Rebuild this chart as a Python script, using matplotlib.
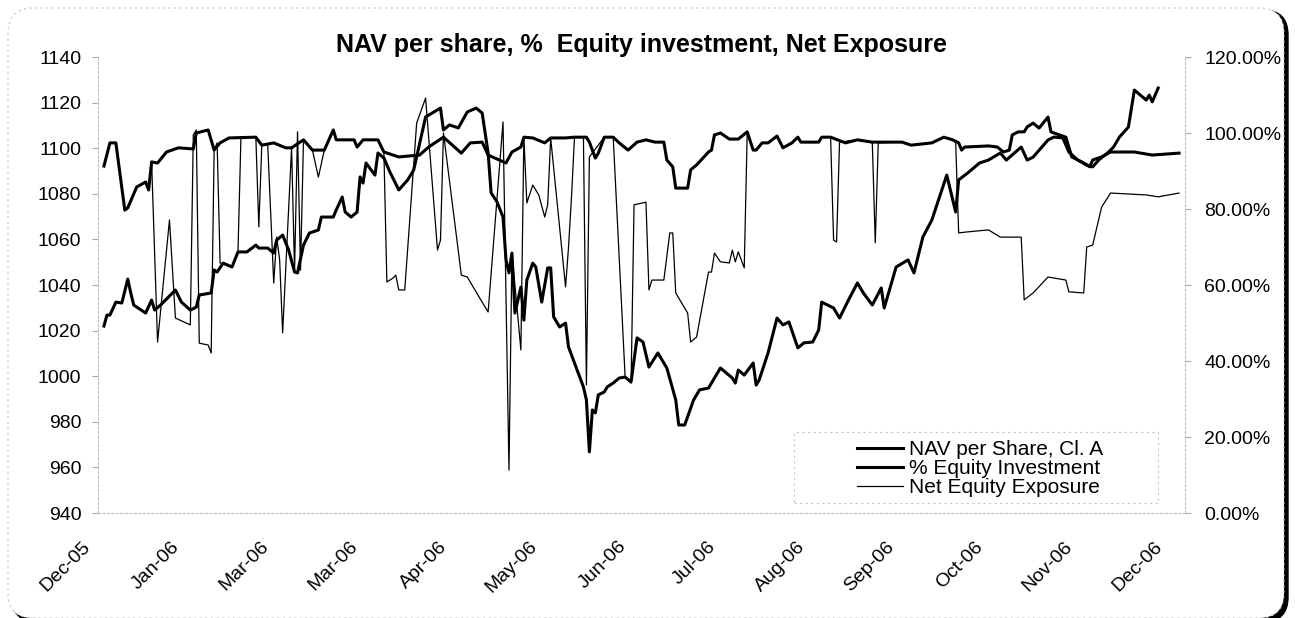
import numpy as np
import matplotlib
matplotlib.use('Agg')
import matplotlib.pyplot as plt
from matplotlib.patches import FancyBboxPatch, Rectangle
from matplotlib.transforms import ScaledTranslation

plt.rcParams['font.family'] = ['Liberation Sans', 'DejaVu Sans']

# x values are days counted from 31-Dec-2005
BASE = np.datetime64('2005-12-31')

nav_day = [2, 3, 4, 6, 8, 10, 11, 12, 16, 18, 19, 21, 26, 28, 31, 33, 34, 38, 39, 40,
           42, 45, 47, 50, 53, 54, 57, 59, 60, 62, 64, 66, 67, 69, 71, 74, 75, 79, 80, 82,
           83, 85, 87, 88, 89, 90, 93, 94, 96, 98, 101, 104, 106, 110, 115, 116, 118, 121, 124, 127,
           129, 131, 132, 134, 136, 137, 138, 139, 140, 142, 143, 144, 146, 147, 149, 151, 152, 153, 155, 157,
           158, 160, 163, 164, 165, 166, 167, 168, 170, 171, 173, 175, 177, 179, 181, 183, 185, 188, 191, 194,
           195, 197, 200, 202, 205, 209, 213, 214, 215, 217, 220, 221, 222, 225, 228, 230, 232, 235, 237, 240,
           242, 243, 247, 249, 252, 255, 257, 260, 263, 264, 268, 272, 274, 277, 280, 285, 288, 289, 292, 296,
           299, 303, 305, 310, 312, 314, 319, 321, 324, 326, 329, 332, 334, 336, 339, 341, 343, 346, 348, 352,
           353, 354, 356]
nav_val = [1022.0, 1026.8, 1026.8, 1032.5, 1032.1, 1042.6, 1036.5, 1031.2, 1027.7, 1033.4,
           1029.0, 1031.2, 1037.8, 1032.5, 1029.0, 1030.3, 1035.6, 1036.5, 1046.6, 1045.7,
           1049.6, 1047.9, 1054.5, 1054.5, 1057.5, 1056.2, 1056.2, 1054.0, 1059.7, 1061.9,
           1055.4, 1045.7, 1045.3, 1057.5, 1062.8, 1064.1, 1069.8, 1069.8, 1072.9, 1078.6,
           1072.0, 1069.8, 1072.0, 1087.4, 1084.7, 1093.5, 1088.2, 1097.9, 1095.7, 1089.6,
           1081.7, 1086.1, 1090.4, 1113.7, 1117.6, 1108.0, 1110.2, 1108.9, 1115.9, 1117.6,
           1115.4, 1097.9, 1080.4, 1076.4, 1069.8, 1051.0, 1045.3, 1054.0, 1027.7, 1039.1,
           1024.6, 1042.2, 1049.6, 1047.9, 1032.5, 1047.5, 1047.5, 1026.0, 1021.6, 1023.3,
           1012.8, 1005.8, 995.3, 989.6, 966.8, 985.2, 983.9, 991.8, 993.1, 995.3,
           997.0, 999.2, 999.6, 997.5, 1016.8, 1015.0, 1004.0, 1010.2, 1003.6, 989.6,
           978.6, 978.6, 989.6, 994.0, 994.8, 1003.6, 999.2, 997.0, 1002.7, 1000.5,
           1005.8, 996.1, 998.3, 1010.2, 1025.5, 1022.5, 1023.8, 1012.4, 1014.6, 1015.0,
           1020.3, 1032.5, 1029.9, 1025.5, 1033.4, 1040.9, 1036.5, 1031.2, 1038.7, 1029.9,
           1047.9, 1051.0, 1045.3, 1061.1, 1068.5, 1088.2, 1072.0, 1086.1, 1089.1, 1093.5,
           1094.8, 1097.9, 1094.8, 1100.5, 1094.8, 1096.1, 1103.6, 1104.9, 1104.5, 1098.3,
           1094.8, 1092.6, 1091.8, 1094.8, 1097.9, 1100.5, 1104.9, 1109.3, 1125.5, 1121.1,
           1123.3, 1120.3, 1126.4]

eq_day = [2, 4, 6, 9, 10, 13, 16, 17, 18, 20, 23, 27, 32, 33, 37, 39, 41, 44, 53, 55,
          59, 63, 65, 69, 72, 76, 79, 80, 86, 87, 89, 94, 96, 101, 108, 111, 116, 122, 125, 129,
          131, 137, 139, 142, 143, 146, 150, 152, 157, 160, 164, 165, 167, 168, 170, 173, 175, 178, 181, 184,
          187, 190, 191, 193, 194, 198, 199, 201, 205, 206, 207, 209, 212, 215, 218, 220, 221, 223, 225, 228,
          230, 233, 235, 236, 242, 243, 246, 251, 255, 260, 270, 273, 280, 284, 287, 289, 290, 291, 299, 302,
          304, 306, 307, 309, 311, 312, 314, 316, 319, 320, 321, 325, 327, 331, 333, 334, 337, 340, 348, 354,
          363]
eq_pct = [91.3, 97.4, 97.4, 79.7, 80.3, 85.8, 87.1, 85.0, 92.4, 92.1, 95.0, 96.1, 95.8, 100.0, 100.8,
          95.5, 97.4, 98.7, 98.9, 96.8, 97.4, 96.1, 96.1, 98.2, 95.5, 95.5, 100.8, 98.2, 98.2, 96.3,
          98.2, 98.2, 95.0, 93.7, 94.2, 96.3, 98.9, 94.7, 97.4, 97.6, 94.2, 92.1, 95.0, 96.3, 98.9,
          98.7, 97.4, 98.7, 98.7, 98.9, 98.9, 97.6, 93.4, 94.7, 98.9, 98.9, 97.4, 95.5, 97.6, 98.2,
          97.6, 97.6, 92.9, 91.1, 85.5, 85.5, 90.3, 91.6, 95.0, 95.5, 99.5, 100.0, 98.4, 98.4, 100.3,
          95.5, 95.5, 97.4, 97.4, 99.2, 96.1, 97.4, 98.9, 97.6, 97.6, 98.9, 98.9, 97.4, 98.2, 97.6,
          97.6, 96.8, 97.4, 98.9, 98.2, 97.4, 95.5, 96.3, 96.6, 96.3, 95.0, 95.5, 99.5, 100.3, 100.3,
          101.6, 102.6, 101.3, 104.2, 100.3, 100.0, 98.9, 93.7, 92.1, 91.1, 92.9, 93.7, 95.0, 95.0,
          94.2, 94.7]

net_day = [2, 4, 6, 9, 10, 13, 16, 17, 18, 20, 24, 26, 31, 32, 33, 34, 37, 38, 39, 40,
           41, 45, 47, 48, 53, 54, 55, 57, 59, 60, 61, 62, 65, 66, 67, 68, 69, 72, 74, 76,
           79, 80, 86, 87, 89, 94, 96, 97, 99, 100, 101, 103, 107, 110, 114, 115, 116, 122, 124, 128,
           131, 136, 138, 139, 142, 143, 144, 146, 148, 150, 151, 152, 157, 158, 159, 160, 163, 164, 165, 170,
           173, 177, 179, 180, 184, 185, 186, 190, 192, 193, 194, 198, 199, 201, 205, 206, 207, 209, 212, 213,
           214, 215, 216, 217, 218, 220, 221, 223, 225, 228, 230, 233, 235, 236, 242, 243, 246, 247, 248, 249,
           255, 260, 261, 262, 270, 273, 280, 284, 287, 288, 289, 291, 299, 303, 310, 311, 314, 319, 325, 326,
           331, 332, 334, 337, 340, 352, 356, 363]
net_pct = [91.3, 97.4, 97.4, 79.7, 80.3, 85.8, 87.1, 85.0, 92.4, 45.0, 77.1, 51.3, 49.5, 99.5, 100.8,
           44.7, 44.2, 42.1, 95.5, 97.4, 65.8, 64.7, 68.7, 98.9, 98.9, 75.3, 96.8, 96.8, 60.5, 72.6,
           66.6, 47.4, 96.1, 63.9, 100.3, 63.9, 98.2, 95.5, 88.4, 95.5, 100.8, 98.2, 98.2, 96.3, 98.2,
           98.2, 95.0, 60.8, 61.8, 62.6, 58.7, 58.7, 102.6, 109.2, 69.2, 71.8, 100.0, 62.6, 62.1, 56.8,
           52.9, 102.9, 11.3, 68.4, 42.9, 98.9, 81.6, 86.3, 83.7, 77.9, 81.1, 98.7, 59.5, 70.0, 83.2,
           98.9, 98.9, 33.7, 93.7, 98.9, 98.9, 35.8, 34.2, 81.1, 81.8, 58.7, 61.3, 61.3, 73.7, 73.7,
           57.9, 52.6, 45.0, 46.3, 63.4, 63.4, 68.4, 66.1, 65.8, 69.2, 66.1, 68.7, 66.6, 64.5, 100.3,
           95.5, 95.5, 97.4, 97.4, 99.2, 96.1, 97.4, 98.9, 97.6, 97.6, 98.9, 98.9, 71.8, 71.3, 97.6,
           98.2, 97.4, 71.1, 97.4, 97.6, 96.8, 97.4, 98.9, 98.2, 97.4, 73.7, 73.9, 74.5, 72.6, 72.6,
           56.1, 57.9, 62.1, 61.3, 58.2, 57.9, 70.0, 70.5, 80.5, 84.2, 83.7, 83.2, 84.2]

tick_day = list(range(0, 361, 30))
nav_ticks = list(range(940, 1141, 20))
pct_ticks = list(range(0, 121, 20))


def to_dates(days):
    return BASE + np.array(days, dtype='timedelta64[D]')


fig = plt.figure(figsize=(12.95, 6.18), dpi=100)

# chart area frame with the dark shadow on the right
px = 1 / 100
shadow = FancyBboxPatch((12 * px, -4 * px), 1276 * px, 612 * px,
                        boxstyle='round,pad=0,rounding_size=0.25',
                        transform=fig.dpi_scale_trans, facecolor='black',
                        edgecolor='black', lw=1, zorder=-20)
frame = FancyBboxPatch((8 * px, 0 * px), 1276 * px, 610 * px,
                       boxstyle='round,pad=0,rounding_size=0.25',
                       transform=fig.dpi_scale_trans, facecolor='white',
                       edgecolor='#c4c4c4', lw=0.8, linestyle=(0, (2, 3)), zorder=-10)
fig.patches.extend([shadow, frame])

ax = fig.add_axes([98 / 1295, 1 - 513 / 618, 1087 / 1295, 456 / 618])
ax.set_facecolor('none')
ax2 = ax.twinx()

ax.plot(to_dates(nav_day), nav_val, color='black', lw=2.2, label='NAV per Share, Cl. A')
ax2.plot(to_dates(eq_day), eq_pct, color='black', lw=2.2, label='% Equity Investment')
ax2.plot(to_dates(net_day), net_pct, color='black', lw=0.9, label='Net Equity Exposure')

ax.set_ylim(940, 1140)
ax.set_yticks(nav_ticks)
ax2.set_ylim(0, 120)
ax2.set_yticks(pct_ticks)
ax2.set_yticklabels([f'{v:.2f}%' for v in pct_ticks])

ax.tick_params(axis='x', length=0, pad=18)
ax.tick_params(axis='y', length=4, color='#aaaaaa', pad=8, labelsize=14)
ax2.tick_params(axis='y', length=4, color='#aaaaaa', pad=10, labelsize=14)

ticks = to_dates(tick_day)
ax.set_xlim(BASE, BASE + np.timedelta64(365, 'D'))
ax.set_xticks(ticks)
ax.set_xticklabels([t.item().strftime('%b-%y') for t in ticks],
                   rotation=45, ha='right', va='top', rotation_mode='anchor', fontsize=14)
# Excel puts the rotated labels a bit left of their tick
shift = ScaledTranslation(-12 / 72, 0, fig.dpi_scale_trans)
for lab in ax.get_xticklabels():
    lab.set_transform(lab.get_transform() + shift)

for a in (ax, ax2):
    a.spines['top'].set_visible(False)
ax.spines['right'].set_visible(False)
ax2.spines['left'].set_visible(False)
ax2.spines['bottom'].set_visible(False)
for sp in (ax.spines['left'], ax.spines['bottom'], ax2.spines['right']):
    sp.set_color('#c0c0c0')
    sp.set_linestyle((0, (2, 2)))
    sp.set_linewidth(0.8)

ax.set_title('NAV per share, %  Equity investment, Net Exposure',
             fontsize=18, fontweight='bold', pad=3)

h1, l1 = ax.get_legend_handles_labels()
h2, l2 = ax2.get_legend_handles_labels()
leg = ax2.legend(h1 + h2, l1 + l2, loc='upper left', bbox_to_anchor=(0.698, 0.16),
                 frameon=False, borderpad=0, borderaxespad=0, handlelength=2.2,
                 handletextpad=0.3, labelspacing=0.0, fontsize=15)
ax2.add_patch(Rectangle((0.64, 0.022), 0.335, 0.156, transform=ax2.transAxes,
                        fill=False, edgecolor='#c4c4c4', lw=0.8, linestyle=(0, (2, 3))))

fig.savefig('out.png', dpi=100)
